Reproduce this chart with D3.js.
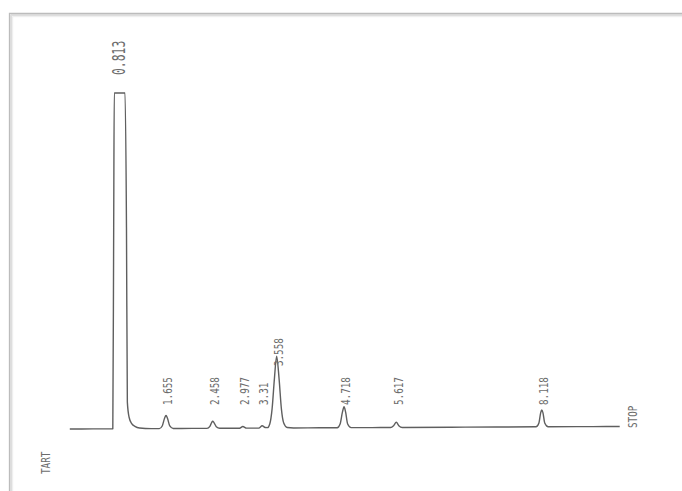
<!DOCTYPE html>
<html>
<head>
<meta charset="utf-8">
<script src="https://cdn.jsdelivr.net/npm/d3@7"></script>
<style>
  html, body { margin: 0; padding: 0; background: #fff; }
  svg { display: block; }
</style>
</head>
<body>
<svg id="chart" width="682" height="491"></svg>
<script>
// Detector trace of the run: [retention time (min), signal (mV)]
const trace = [
  [0.00, 0.00], [0.40, 0.03], [0.74, 0.05],
  [0.755, 60], [0.765, 130], [0.813, 180], [0.95, 130], [0.975, 60],
  [0.99, 8], [1.02, 3.5], [1.065, 1.6], [1.12, 0.8], [1.20, 0.30], [1.40, 0.12],
  [1.54, 0.12], [1.59, 0.9], [1.63, 3.2], [1.655, 4.0], [1.68, 3.2], [1.72, 0.9], [1.78, 0.15],
  [2.10, 0.18],
  [2.36, 0.20], [2.41, 0.8], [2.44, 1.9], [2.458, 2.3], [2.48, 1.9], [2.52, 0.7], [2.58, 0.22],
  [2.92, 0.24], [2.977, 0.75], [3.04, 0.26],
  [3.25, 0.27], [3.31, 0.95], [3.36, 0.45],
  [3.40, 0.40], [3.44, 1.5], [3.48, 6.0], [3.52, 15.0], [3.558, 21.7], [3.60, 15.0],
  [3.64, 6.0], [3.68, 1.8], [3.74, 0.45], [3.85, 0.32],
  [4.30, 0.35],
  [4.60, 0.38], [4.65, 1.5], [4.69, 5.0], [4.718, 6.6], [4.745, 5.0], [4.78, 1.5], [4.84, 0.40],
  [5.20, 0.42],
  [5.52, 0.45], [5.57, 1.0], [5.617, 2.0], [5.66, 1.0], [5.72, 0.46],
  [6.80, 0.55],
  [8.02, 0.65], [8.07, 1.8], [8.10, 4.8], [8.118, 5.65], [8.14, 4.8], [8.17, 1.8], [8.23, 0.66],
  [9.00, 0.72], [9.46, 0.75]
];

// Retention times printed above the detected peaks
const peakLabels = ["0.813", "1.655", "2.458", "2.977", "3.31", "3.558", "4.718", "5.617", "8.118"];

// Run markers
const startLabel = "TART";
const stopLabel = "STOP";
const stopTime = 9.68;

// Axis ranges
const timeDomain = [0, 10];
const signalDomain = [0, 100];

const svg = d3.select("#chart");

// Page frame with a soft inner shadow
const frame = svg.append("g");
[["#efefef", 3.2], ["#e2e2e2", 2.2], ["#d2d2d2", 1.4]].forEach(([c, o]) => {
  frame.append("path")
    .attr("d", `M${9.5 + o},491 V${13.5 + o} H682`)
    .attr("fill", "none").attr("stroke", c).attr("stroke-width", 1);
});
frame.append("path")
  .attr("d", "M9.5,491 V13.5 H682")
  .attr("fill", "none").attr("stroke", "#bcbcbc").attr("stroke-width", 1.3);

const x = d3.scaleLinear().domain(timeDomain).range([69.8, 651.1]);
const y = d3.scaleLinear().domain(signalDomain).range([429, 93]).clamp(true);

const line = d3.line()
  .x(d => x(d[0]))
  .y(d => y(d[1]))
  .curve(d3.curveMonotoneX);

svg.append("path")
  .datum(trace)
  .attr("d", line)
  .attr("fill", "none")
  .attr("stroke", "#5f5f5f")
  .attr("stroke-width", 1.4)
  .attr("stroke-linejoin", "round");

// Peak labels, printed vertically above each apex
const labelFont = "'DejaVu Sans Mono', 'Liberation Mono', monospace";
const lg = svg.append("g").attr("fill", "#6c6c6c").attr("font-family", labelFont);

peakLabels.forEach(lbl => {
  const t = +lbl;
  const pt = trace.reduce((a, b) => Math.abs(b[0] - t) < Math.abs(a[0] - t) ? b : a);
  const clipped = pt[1] >= signalDomain[1];
  const apexY = y(pt[1]);
  const base = y(0) - 24;
  const bottom = clipped ? y(signalDomain[1]) - 18 : Math.min(base, apexY + 10);
  const big = clipped;
  lg.append("text")
    .attr("transform", `translate(${x(t) + 2},${bottom}) rotate(-90) scale(${big ? 0.95 : 0.93},${big ? 1.45 : 1.2})`)
    .attr("dy", "0.35em")
    .attr("font-size", big ? 12 : 10)
    .text(lbl);
});

// Start / stop markers
lg.append("text")
  .attr("transform", `translate(${x(stopTime)},${y(0) - 1}) rotate(-90) scale(0.93,1.3)`)
  .attr("dy", "0.35em")
  .attr("font-size", 10)
  .text(stopLabel);

lg.append("text")
  .attr("transform", `translate(45,474) rotate(-90) scale(0.93,1.3)`)
  .attr("dy", "0.35em")
  .attr("font-size", 10)
  .text(startLabel);
</script>
</body>
</html>
